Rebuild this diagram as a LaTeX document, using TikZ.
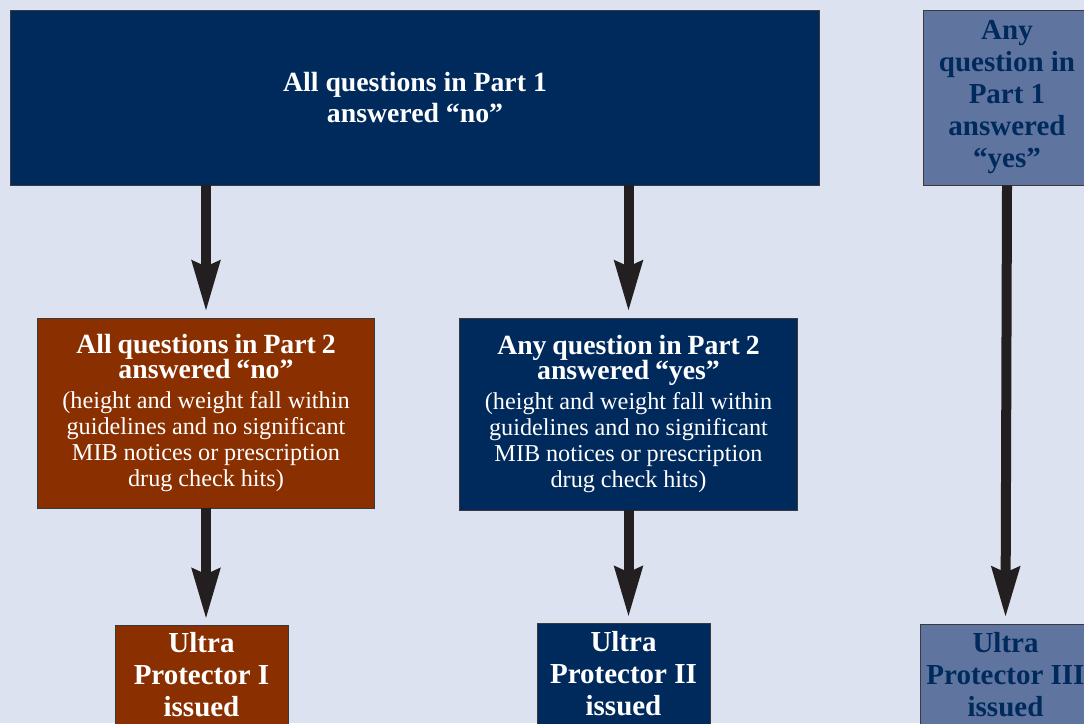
\documentclass[tikz,border=0pt]{standalone}
\usepackage{fontspec}
\setmainfont{Liberation Serif}
\usepackage{tikz}
\usetikzlibrary{arrows.meta}

\definecolor{Page}{HTML}{DCE2F0}
\definecolor{Navy}{HTML}{002A5C}
\definecolor{Rust}{HTML}{8A3000}
\definecolor{Slate}{HTML}{5F75A0}
\definecolor{Ink}{HTML}{231F20}
\definecolor{Edge}{HTML}{3A3A3A}

\newcommand{\HeadFont}{\fontsize{15.8}{14.4}\selectfont\bfseries}
\newcommand{\NoteFont}{\fontsize{13.8}{14.8}\selectfont}

\begin{document}
\begin{tikzpicture}[x=0.02cm, y=-0.02cm]
		\tikzstyle{Box}		= [rectangle, draw=Edge, line width=0.5pt, inner sep=2pt, align=center]
		\tikzstyle{NavyBox}	= [Box, fill=Navy, text=white]
		\tikzstyle{RustBox}	= [Box, fill=Rust, text=white]
		\tikzstyle{SlateBox}	= [Box, fill=Slate, text=Navy]
		\tikzstyle{Big}		= [font=\fontsize{15.8}{17.6}\selectfont\bfseries]
		\tikzstyle{Tall}	= [font=\fontsize{16.5}{18.2}\selectfont\bfseries]
		\tikzstyle{Flow}	= [draw=Ink, line width=0.2cm, -{Stealth[length=1cm, width=0.54cm, inset=0.1cm]}]

		\clip (0,0) rectangle (1084,723);
		\fill [Page] (0,0) rectangle (1084,723);

		% top row
		\node (part1no) at (415, 97.5) [NavyBox][Big, minimum width=16.2cm, minimum height=3.5cm]
			{All questions in Part 1\\answered “no”};
		\node (part1yes) at (1007, 97.5) [SlateBox][Tall, minimum width=3.36cm, minimum height=3.5cm]
			{Any\\question in\\Part 1\\answered\\“yes”};

		% middle row
		\node (part2no) at (206, 413) [RustBox][text width=6.6cm, minimum height=3.8cm]
			{{\HeadFont All questions in Part 2\\answered “no”\par}\vspace{2pt}
			{\NoteFont (height and weight fall within\\guidelines and no significant\\MIB notices or prescription\\drug check hits)\par}};
		\node (part2yes) at (628.5, 414) [NavyBox][text width=6.62cm, minimum height=3.84cm]
			{{\HeadFont Any question in Part 2\\answered “yes”\par}\vspace{2pt}
			{\NoteFont (height and weight fall within\\guidelines and no significant\\MIB notices or prescription\\drug check hits)\par}};

		% bottom row
		\node (upI) at (201.5, 675) [RustBox][Tall, minimum width=3.46cm, minimum height=2cm]
			{Ultra\\Protector I\\issued};
		\node (upII) at (623.5, 674) [NavyBox][Tall, minimum width=3.46cm, minimum height=2.04cm]
			{Ultra\\Protector II\\issued};
		\node (upIII) at (1005.5, 675) [SlateBox][Tall, minimum width=3.42cm, minimum height=2.04cm]
			{Ultra\\Protector III\\issued};

		% connectors
		\draw (part2no |- part1no.south) to (part2no.north) [Flow, shorten >=3.4pt];
		\draw (part2yes |- part1no.south) to (part2yes.north) [Flow, shorten >=3.4pt];
		\draw (part1yes.south) to (upIII.north) [Flow, shorten >=3.4pt];
		\draw (part2no.south) to (part2no.south |- upI.north) [Flow, shorten >=3pt];
		\draw (part2yes.south) to (part2yes.south |- upII.north) [Flow, shorten >=3pt];
	\end{tikzpicture}
\end{document}
